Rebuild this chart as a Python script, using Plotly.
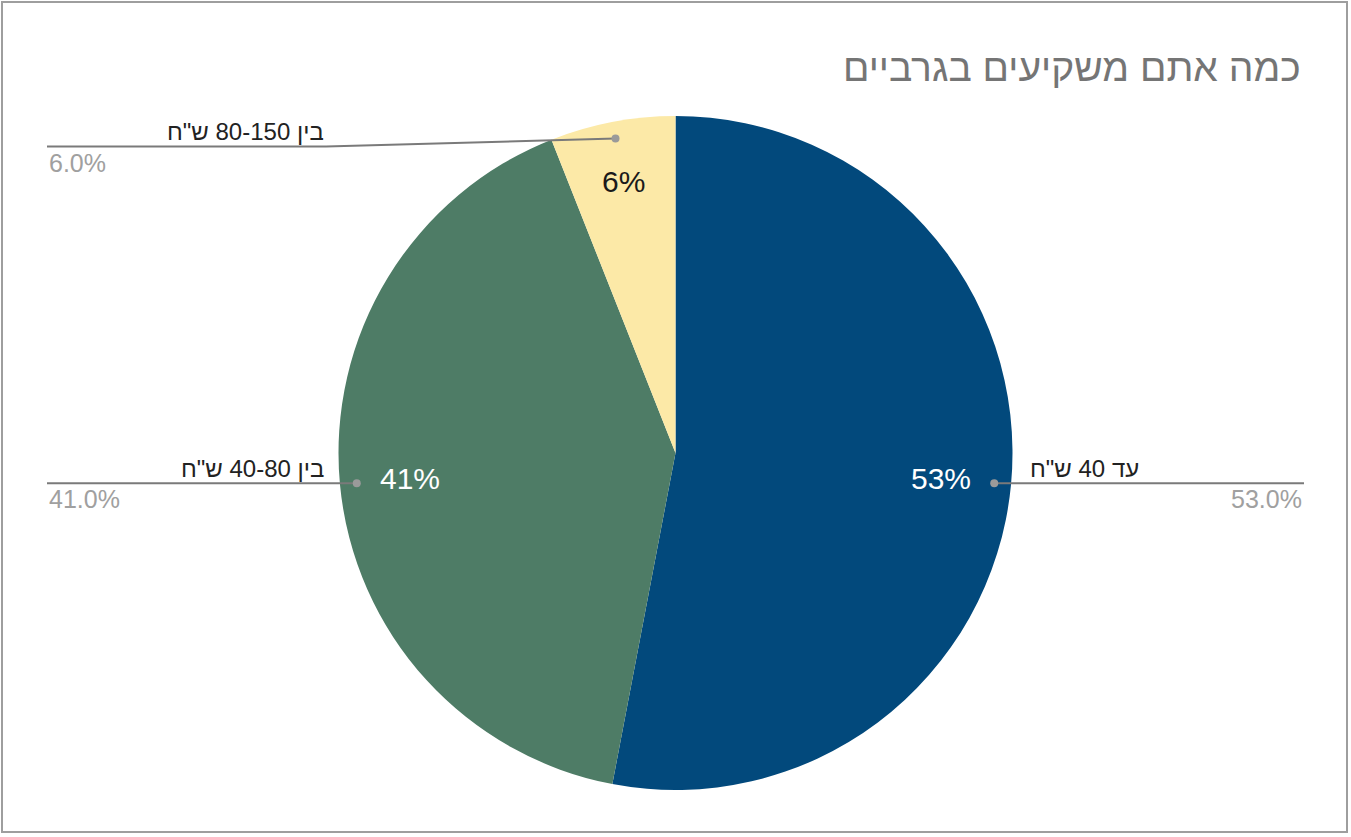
import math
import plotly.graph_objects as go

W, H = 1351, 837

labels = ['עד 40 ש"ח', 'בין 40-80 ש"ח', 'בין 80-150 ש"ח']
values = [53, 41, 6]
colors = ["#02497c", "#4e7c66", "#fce9a7"]
inside_font_colors = ["white", "white", "#1a1a1a"]
title = "כמה אתם משקיעים בגרביים"

FONT = "Arial, Liberation Sans, sans-serif"

# plot area margins (pixels) -> pie sits in the middle
M_T, M_B = 116, 47
R = (H - M_T - M_B) / 2.0
CX, CY = W / 2.0, M_T + R


def px2x(px):
    return px / W


def px2y(py):
    return 1 - (py - M_T) / (H - M_T - M_B)


fig = go.Figure(go.Pie(
    labels=labels,
    values=values,
    sort=False,
    direction="clockwise",
    rotation=0,
    marker=dict(colors=colors, line=dict(width=0)),
    textinfo="none",
    hoverinfo="label+percent",
    showlegend=False,
    domain=dict(x=[0, 1], y=[0, 1]),
))

shapes = []
annotations = []

# figure border
shapes.append(dict(type="rect", xref="paper", yref="paper",
                   x0=px2x(2), x1=px2x(1347), y0=px2y(832), y1=px2y(2),
                   line=dict(color="#9e9e9e", width=2), layer="below"))

annotations.append(dict(text=title, xref="paper", yref="paper",
                        x=px2x(1303), y=px2y(67), xanchor="right", yanchor="middle",
                        showarrow=False, font=dict(family=FONT, size=39, color="#757575")))

# slice labels: percent inside, name + exact percent outside with leader line
total = sum(values)
cum = 0
for i, (lab, v) in enumerate(zip(labels, values)):
    mid = (cum + v / 2) / total * 2 * math.pi
    cum += v
    s, c = math.sin(mid), math.cos(mid)

    r_in = 0.79 if abs(c) < 0.5 else 0.82
    annotations.append(dict(text=f"{round(v / total * 100)}%", xref="paper", yref="paper",
                            x=px2x(CX + r_in * R * s), y=px2y(CY - r_in * R * c),
                            xanchor="center", yanchor="middle", showarrow=False,
                            font=dict(family=FONT, size=30, color=inside_font_colors[i])))

    dx = CX + 0.95 * R * s
    dy = CY - 0.95 * R * c
    right = s > 0
    line_y = dy if abs(c) < 0.5 else dy + 8
    if right:
        end_x = 1304
        pts = [(dx, dy), (end_x, line_y)]
        lab_x, lab_anchor = dx + 34, "left"
        pct_x, pct_anchor = end_x, "right"
    else:
        end_x = 47
        bend_x = 326 if abs(c) >= 0.5 else dx
        pts = [(dx, dy), (bend_x, line_y), (end_x, line_y)]
        lab_x, lab_anchor = 326, "right"
        pct_x, pct_anchor = end_x, "left"
    for (x0, y0), (x1, y1) in zip(pts[:-1], pts[1:]):
        shapes.append(dict(type="line", xref="paper", yref="paper",
                           x0=px2x(x0), y0=px2y(y0), x1=px2x(x1), y1=px2y(y1),
                           line=dict(color="#7a7a7a", width=2)))
    shapes.append(dict(type="circle", xref="paper", yref="paper",
                       x0=px2x(dx - 4), x1=px2x(dx + 4), y0=px2y(dy + 4), y1=px2y(dy - 4),
                       fillcolor="#9a9a9a", line=dict(width=0)))
    annotations.append(dict(text=lab, xref="paper", yref="paper",
                            x=px2x(lab_x), y=px2y(line_y - 15), xanchor=lab_anchor,
                            yanchor="middle", showarrow=False,
                            font=dict(family=FONT, size=24, color="#222222")))
    annotations.append(dict(text=f"{v / total * 100:.1f}%", xref="paper", yref="paper",
                            x=px2x(pct_x), y=px2y(line_y + 16), xanchor=pct_anchor,
                            yanchor="middle", showarrow=False,
                            font=dict(family=FONT, size=25, color="#a0a0a0")))

fig.update_layout(
    width=W, height=H,
    margin=dict(l=0, r=0, t=M_T, b=M_B),
    paper_bgcolor="white",
    plot_bgcolor="white",
    shapes=shapes,
    annotations=annotations,
    font=dict(family=FONT),
)

fig.write_html("out.html", config={"displayModeBar": False},
               post_script="document.body.style.margin='0px';")
